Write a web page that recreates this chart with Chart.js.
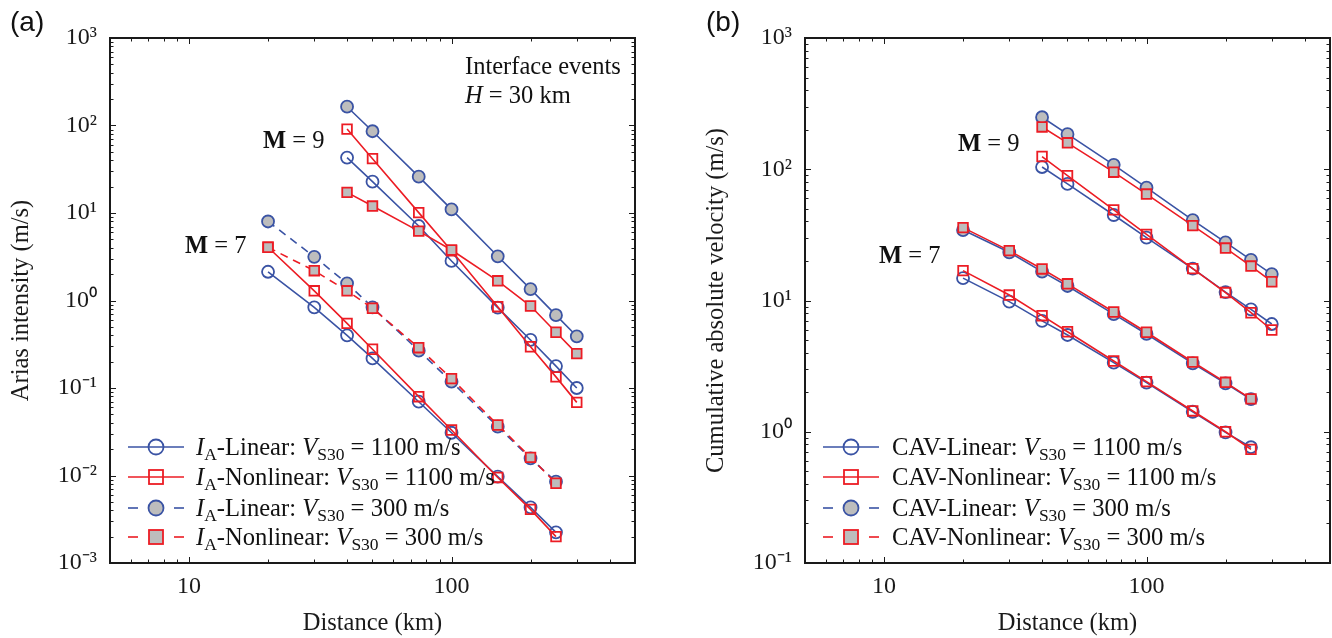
<!DOCTYPE html>
<html><head><meta charset="utf-8">
<script src="https://cdn.jsdelivr.net/npm/chart.js@4.4.1/dist/chart.umd.min.js"></script>
<style>
html,body{margin:0;padding:0;background:#fff;}
#wrap{position:relative;width:1332px;height:638px;overflow:hidden;font-family:'Liberation Serif','Times New Roman',serif;color:#111;}
canvas{position:absolute;top:0;}
.t{position:absolute;white-space:nowrap;font-size:24.5px;line-height:28px;}
.pl{position:absolute;font-family:'Liberation Sans',Arial,sans-serif;font-size:28px;line-height:32px;color:#111;}
.row{position:absolute;height:30px;display:flex;align-items:center;white-space:nowrap;font-size:24.6px;}
.row svg{flex:none;}
sub{font-size:17.5px;vertical-align:-5px;line-height:0;}
</style></head><body>
<div id="wrap">
<canvas id="ca" width="666" height="638" style="left:0"></canvas>
<canvas id="cb" width="680" height="638" style="left:666px"></canvas>
<div class="pl" style="left:10px;top:6px">(a)</div>
<div class="pl" style="left:706px;top:6px">(b)</div>
<div class="t" style="left:465px;top:52px">Interface events</div>
<div class="t" style="left:465px;top:81px"><i>H</i> = 30 km</div>
<div class="t" style="left:263px;top:126px"><b>M</b> = 9</div>
<div class="t" style="left:185px;top:231px"><b>M</b> = 7</div>
<div class="t" style="left:958px;top:129px"><b>M</b> = 9</div>
<div class="t" style="left:879px;top:241px"><b>M</b> = 7</div>
<div id="legA"></div><div id="legB"></div>
</div>
<script>
// ---------------- data ----------------
const distM7 = [20, 30, 40, 50, 75, 100, 150, 200, 250];
const distM9 = [40, 50, 75, 100, 150, 200, 250, 300];

// Panel (a): Arias intensity (m/s)
const iaLin1100M7 = [2.13, 0.835, 0.40, 0.218, 0.0697, 0.0308, 0.0097, 0.00432, 0.00224];
const iaNon1100M7 = [4.06, 1.29, 0.548, 0.277, 0.0796, 0.0331, 0.0095, 0.0041, 0.0020];
const iaLin300M7  = [8.0, 3.16, 1.57, 0.835, 0.267, 0.118, 0.0361, 0.0157, 0.0085];
const iaNon300M7  = [4.06, 2.19, 1.29, 0.815, 0.289, 0.128, 0.0378, 0.0161, 0.00815];
const iaLin1100M9 = [43, 22.8, 7.1, 2.83, 0.83, 0.354, 0.178, 0.100];
const iaNon1100M9 = [91, 41.8, 10.1, 3.7, 0.85, 0.296, 0.134, 0.0685];
const iaLin300M9  = [164, 86, 26, 11, 3.2, 1.35, 0.68, 0.39];
const iaNon300M9  = [17.2, 12.0, 6.2, 3.78, 1.68, 0.865, 0.434, 0.247];

// Panel (b): Cumulative absolute velocity (m/s)
const cavLin1100M7 = [14.8, 9.8, 7.0, 5.46, 3.36, 2.37, 1.42, 0.99, 0.762];
const cavNon1100M7 = [16.9, 11.0, 7.66, 5.78, 3.46, 2.41, 1.44, 1.0, 0.734];
const cavLin300M7  = [34.4, 23.3, 16.6, 12.9, 7.88, 5.56, 3.32, 2.34, 1.77];
const cavNon300M7  = [35.9, 24.0, 17.4, 13.4, 8.17, 5.73, 3.40, 2.38, 1.78];
const cavLin1100M9 = [104, 77.3, 44.8, 30.1, 17.5, 11.6, 8.57, 6.62];
const cavNon1100M9 = [125, 89.3, 49, 31.9, 17.5, 11.5, 8.07, 5.96];
const cavLin300M9  = [249, 185, 108, 72.4, 41, 27.7, 20.4, 15.9];
const cavNon300M9  = [210, 159, 95, 64.7, 37.2, 25.1, 18.3, 13.9];

// ticks
const xTickValues = [10, 100];
const xTickLabels = ['10', '100'];
const yTickValuesA = [0.001, 0.01, 0.1, 1, 10, 100, 1000];
const yTickLabelsA = ['10\u207B\u00B3', '10\u207B\u00B2', '10\u207B\u00B9', '10\u2070', '10\u00B9', '10\u00B2', '10\u00B3'];
const yTickValuesB = [0.1, 1, 10, 100, 1000];
const yTickLabelsB = ['10\u207B\u00B9', '10\u2070', '10\u00B9', '10\u00B2', '10\u00B3'];

// legend labels
const legendA = [
  '<i>I</i><sub>A</sub>-Linear: <i>V</i><sub>S30</sub> = 1100 m/s',
  '<i>I</i><sub>A</sub>-Nonlinear: <i>V</i><sub>S30</sub> = 1100 m/s',
  '<i>I</i><sub>A</sub>-Linear: <i>V</i><sub>S30</sub> = 300 m/s',
  '<i>I</i><sub>A</sub>-Nonlinear: <i>V</i><sub>S30</sub> = 300 m/s'
];
const legendB = [
  'CAV-Linear: <i>V</i><sub>S30</sub> = 1100 m/s',
  'CAV-Nonlinear: <i>V</i><sub>S30</sub> = 1100 m/s',
  'CAV-Linear: <i>V</i><sub>S30</sub> = 300 m/s',
  'CAV-Nonlinear: <i>V</i><sub>S30</sub> = 300 m/s'
];

// ---------------- styles ----------------
const BLUE = '#3a53a4', RED = '#ec1c24', GRAY = '#bdbdbd', INK = '#1a1a1a';
const FONT = "'Liberation Serif','Times New Roman',serif";
Chart.defaults.font.family = FONT;
Chart.defaults.color = INK;

function series(label, xs, ys, color, filled, shape, dashed) {
  return {
    label,
    data: xs.map((x, i) => ({ x: x, y: ys[i] })),
    borderColor: color,
    backgroundColor: color,
    borderWidth: 1.6,
    borderDash: dashed ? [8, 6] : [],
    pointStyle: shape,
    pointRadius: shape === 'circle' ? 6 : 6.8,
    pointBorderWidth: 1.8,
    pointBorderColor: color,
    pointBackgroundColor: filled ? GRAY : 'rgba(255,255,255,0)',
    pointHoverRadius: 6,
    tension: 0,
    fill: false
  };
}

const framePlugin = {
  id: 'frame',
  afterDatasetsDraw(chart) {
    const { ctx, chartArea: a, scales: { x, y } } = chart;
    ctx.save();
    ctx.strokeStyle = INK;
    ctx.lineWidth = 1;
    const eachLog = (min, max, fn) => {
      for (let d = Math.floor(Math.log10(min)); d <= Math.ceil(Math.log10(max)); d++) {
        for (let k = 1; k <= 9; k++) {
          const v = k * Math.pow(10, d);
          if (v < min * 0.999 || v > max * 1.001) continue;
          fn(v, k === 1);
        }
      }
    };
    ctx.beginPath();
    eachLog(x.min, x.max, (v, major) => {
      const px = Math.round(x.getPixelForValue(v)) + 0.5, L = major ? 6 : 3.5;
      ctx.moveTo(px, a.bottom); ctx.lineTo(px, a.bottom - L);
      ctx.moveTo(px, a.top); ctx.lineTo(px, a.top + L);
    });
    eachLog(y.min, y.max, (v, major) => {
      const py = Math.round(y.getPixelForValue(v)) + 0.5, L = major ? 6 : 3.5;
      ctx.moveTo(a.left, py); ctx.lineTo(a.left + L, py);
      ctx.moveTo(a.right, py); ctx.lineTo(a.right - L, py);
    });
    ctx.stroke();
    ctx.lineWidth = 2;
    ctx.strokeRect(a.left, a.top, a.width, a.height);
    ctx.restore();
  }
};

function makeChart(id, datasets, yMin, yMax, yVals, yLabs, yTitle, axisW, titlePad, padRight) {
  return new Chart(document.getElementById(id), {
    type: 'line',
    data: { datasets },
    plugins: [framePlugin],
    options: {
      responsive: false,
      animation: false,
      events: [],
      layout: { padding: { left: 0, right: padRight, top: 38, bottom: 0 } },
      plugins: { legend: { display: false }, tooltip: { enabled: false } },
      scales: {
        x: {
          type: 'logarithmic', min: 5, max: 500,
          grid: { display: false, drawTicks: false },
          border: { display: false },
          afterBuildTicks: s => { s.ticks = xTickValues.map(v => ({ value: v })); },
          afterFit: s => { s.height = 75; },
          ticks: { callback: (v, i) => xTickLabels[i], font: { size: 24 }, color: INK, padding: 9, maxRotation: 0, autoSkip: false },
          title: { display: true, text: 'Distance (km)', font: { size: 24.5 }, color: INK, padding: { top: 0, bottom: 0 } }
        },
        y: {
          type: 'logarithmic', min: yMin, max: yMax,
          grid: { display: false, drawTicks: false },
          border: { display: false },
          afterBuildTicks: s => { s.ticks = yVals.map(v => ({ value: v })); },
          afterFit: s => { s.width = axisW; },
          ticks: { callback: (v, i) => yLabs[i], font: { size: 24 }, color: INK, padding: 13, autoSkip: false },
          title: { display: true, text: yTitle, font: { size: 24.5 }, color: INK, padding: { top: titlePad, bottom: 0 } }
        }
      }
    }
  });
}

makeChart('ca', [
  series('IA-Nonlinear 300 M7', distM7, iaNon300M7, RED, true, 'rect', true),
  series('IA-Nonlinear 300 M9', distM9, iaNon300M9, RED, true, 'rect', false),
  series('IA-Linear 300 M7', distM7, iaLin300M7, BLUE, true, 'circle', true),
  series('IA-Linear 300 M9', distM9, iaLin300M9, BLUE, true, 'circle', false),
  series('IA-Nonlinear 1100 M7', distM7, iaNon1100M7, RED, false, 'rect', false),
  series('IA-Nonlinear 1100 M9', distM9, iaNon1100M9, RED, false, 'rect', false),
  series('IA-Linear 1100 M7', distM7, iaLin1100M7, BLUE, false, 'circle', false),
  series('IA-Linear 1100 M9', distM9, iaLin1100M9, BLUE, false, 'circle', false)
], 0.001, 1000, yTickValuesA, yTickLabelsA, 'Arias intensity (m/s)', 110, 7, 31);

makeChart('cb', [
  series('CAV-Nonlinear 300 M7', distM7, cavNon300M7, RED, true, 'rect', false),
  series('CAV-Nonlinear 300 M9', distM9, cavNon300M9, RED, true, 'rect', false),
  series('CAV-Linear 300 M7', distM7, cavLin300M7, BLUE, true, 'circle', false),
  series('CAV-Linear 300 M9', distM9, cavLin300M9, BLUE, true, 'circle', false),
  series('CAV-Nonlinear 1100 M7', distM7, cavNon1100M7, RED, false, 'rect', false),
  series('CAV-Nonlinear 1100 M9', distM9, cavNon1100M9, RED, false, 'rect', false),
  series('CAV-Linear 1100 M7', distM7, cavLin1100M7, BLUE, false, 'circle', false),
  series('CAV-Linear 1100 M9', distM9, cavLin1100M9, BLUE, false, 'circle', false)
], 0.1, 1000, yTickValuesB, yTickLabelsB, 'Cumulative absolute velocity (m/s)', 139, 36, 16);

// ---------------- legends (HTML) ----------------
const legendStyle = [
  { color: BLUE, shape: 'circle', filled: false, dashed: false },
  { color: RED, shape: 'rect', filled: false, dashed: false },
  { color: BLUE, shape: 'circle', filled: true, dashed: true },
  { color: RED, shape: 'rect', filled: true, dashed: true }
];
const rowCenters = [447, 477, 508, 537];
function sample(st) {
  const fill = st.filled ? GRAY : 'none';
  const line = st.dashed
    ? `<line x1="0" y1="12" x2="10" y2="12" stroke="${st.color}" stroke-width="1.6"/><line x1="46" y1="12" x2="56" y2="12" stroke="${st.color}" stroke-width="1.6"/>`
    : `<line x1="0" y1="12" x2="56" y2="12" stroke="${st.color}" stroke-width="1.6"/>`;
  const mk = st.shape === 'circle'
    ? `<circle cx="28" cy="12" r="7.5" fill="${fill}" stroke="${st.color}" stroke-width="1.8"/>`
    : `<rect x="21" y="5" width="14" height="14" fill="${fill}" stroke="${st.color}" stroke-width="1.8"/>`;
  return `<svg width="56" height="24" viewBox="0 0 56 24">${line}${mk}</svg>`;
}
function buildLegend(elId, labels, left, gap) {
  const el = document.getElementById(elId);
  labels.forEach((lab, i) => {
    const r = document.createElement('div');
    r.className = 'row';
    r.style.left = left + 'px';
    r.style.top = (rowCenters[i] - 15) + 'px';
    r.innerHTML = sample(legendStyle[i]) + `<span style="margin-left:${gap}px">${lab}</span>`;
    el.appendChild(r);
  });
}
buildLegend('legA', legendA, 128, 12);
buildLegend('legB', legendB, 823, 13);
</script>
</body></html>
